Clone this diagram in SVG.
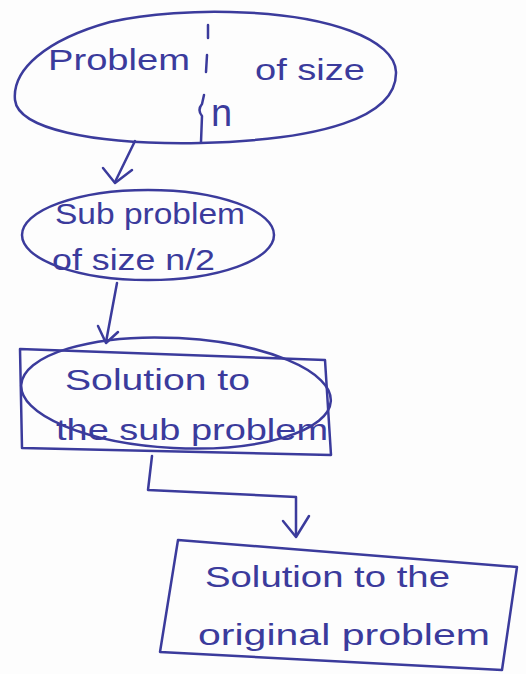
<svg xmlns="http://www.w3.org/2000/svg" width="526" height="674" viewBox="0 0 526 674">
<defs>
<style>
.ink{fill:none;stroke:#3b3b9c;stroke-width:2.5;stroke-linecap:round;stroke-linejoin:round}
.t{font-family:"Liberation Sans","DejaVu Sans",sans-serif;fill:#3b3b9c;font-size:30px}
</style>
</defs>
<rect width="526" height="674" fill="#fdfdfd"/>
<g id="connectors" class="ink">
<path d="M135 141 L115 182"/>
<path d="M103 168 L115 183 L132 170"/>
<path d="M117 283 L106 342"/>
<path d="M98 326 L106 343 L118 332"/>
<path d="M152 456 L148 490 L296 497 L296 536"/>
<path d="M283 521 L296 537 L309 516"/>
</g>
<g id="n1">
<path class="ink" d="M230 12 C330 14 395 40 396 72 C397 118 320 140 200 143 C90 145 18 128 15 100 C12 70 45 40 110 22 C150 13 200 11 230 12 Z"/>
<path class="ink" d="M208 25 L208 38 M207 55 L206 72 M204 95 L202 104 Q197 110 202 116 L201 142"/>
<text class="t" x="48" y="70" textLength="142" lengthAdjust="spacingAndGlyphs">Problem</text>
<text class="t" x="255" y="80" textLength="110" lengthAdjust="spacingAndGlyphs">of size</text>
<text class="t" x="211" y="126" style="font-size:38px">n</text>
</g>
<g id="n2">
<ellipse class="ink" cx="148" cy="235" rx="126" ry="45"/>
<text class="t" x="55" y="224" textLength="190" lengthAdjust="spacingAndGlyphs">Sub problem</text>
<text class="t" x="52" y="270" textLength="163" lengthAdjust="spacingAndGlyphs">of size n/2</text>
</g>
<g id="n3">
<path class="ink" d="M20 349 L325 360 L331 455 L22 448 Z"/>
<ellipse class="ink" cx="176" cy="393" rx="155" ry="55" transform="rotate(3 176 393)"/>
<text class="t" x="65" y="390" textLength="185" lengthAdjust="spacingAndGlyphs">Solution to</text>
<text class="t" x="56" y="440" textLength="272" lengthAdjust="spacingAndGlyphs">the sub problem</text>
</g>
<g id="n4">
<path class="ink" d="M178 540 L517 567 L502 670 L160 652 Z"/>
<text class="t" x="205" y="587" textLength="245" lengthAdjust="spacingAndGlyphs">Solution to the</text>
<text class="t" x="198" y="645" textLength="292" lengthAdjust="spacingAndGlyphs">original problem</text>
</g>
</svg>
